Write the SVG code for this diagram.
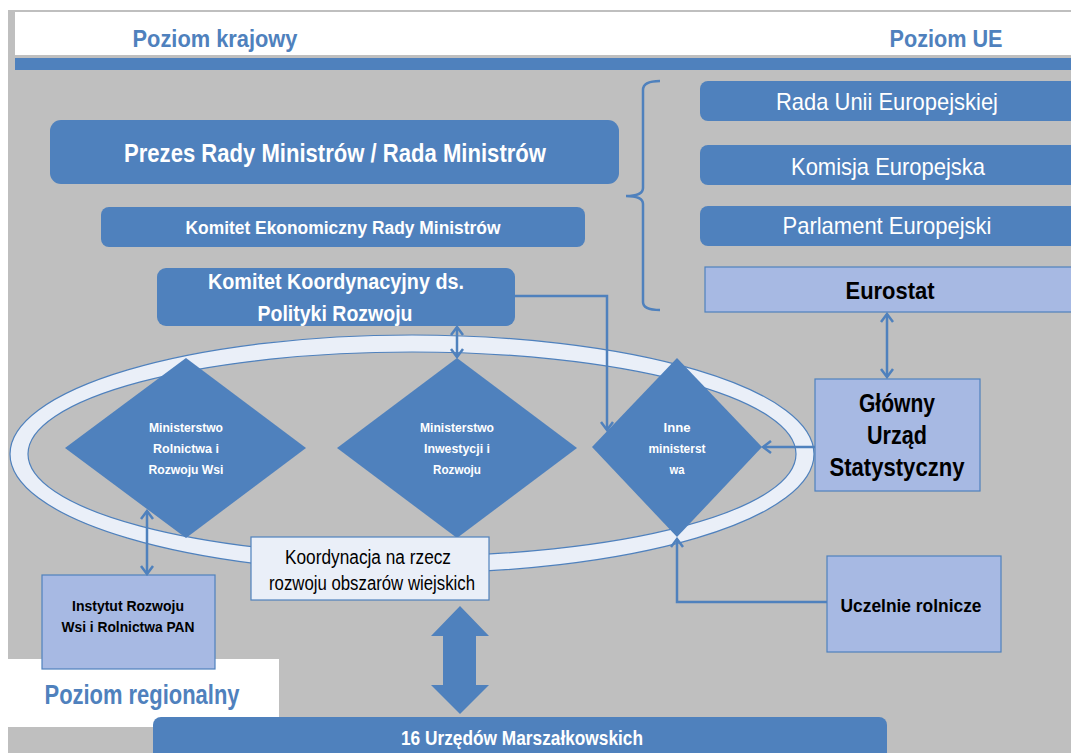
<svg xmlns="http://www.w3.org/2000/svg" width="1071" height="753" viewBox="0 0 1071 753">
  <style>
    .blue { fill: #4F81BD; }
    .light { fill: #A7B9E3; stroke: #4F81BD; stroke-width: 1.2; }
    .pale { fill: #EAEFF8; stroke: #4F81BD; stroke-width: 1.2; }
    text { font-family: "Liberation Sans Narrow", "Arial Narrow", "Liberation Sans", Arial, sans-serif; text-anchor: middle; }
    .wb { font-weight: bold; fill: #FFFFFF; }
    .wr { fill: #FFFFFF; }
    .kb { font-weight: bold; fill: #000000; }
    .kr { fill: #000000; }
    .head { font-weight: bold; fill: #4F81BD; }
    .line { fill: none; stroke: #4F81BD; stroke-width: 2.5; }
  </style>
  <defs>
    <marker id="open" markerUnits="userSpaceOnUse" viewBox="-12 -10 14 20" markerWidth="14" markerHeight="20" refX="0" refY="0" orient="auto-start-reverse">
      <path d="M-8,-6 L0,0 L-8,6" fill="none" stroke="#4F81BD" stroke-width="2.5" stroke-linejoin="miter"/>
    </marker>
  </defs>

  <!-- page and panels -->
  <rect x="0" y="0" width="1071" height="753" fill="#FFFFFF"/>
  <rect x="8" y="10" width="1063" height="743" fill="#BFBFBF"/>
  <rect x="15" y="12" width="1056" height="43" fill="#FFFFFF"/>
  <rect x="15" y="58" width="1056" height="12" class="blue"/>
  <rect x="0" y="659" width="279" height="68" fill="#FFFFFF"/>

  <!-- level headings -->
  <text class="head" x="215" y="47" font-size="24" textLength="165" lengthAdjust="spacingAndGlyphs">Poziom krajowy</text>
  <text class="head" x="946" y="47" font-size="24" textLength="113" lengthAdjust="spacingAndGlyphs">Poziom UE</text>
  <text class="head" x="142" y="704" font-size="27" textLength="195" lengthAdjust="spacingAndGlyphs">Poziom regionalny</text>

  <!-- coordination ring -->
  <g id="ring">
    <path fill-rule="evenodd" fill="#EAEFF8" stroke="#4F81BD" stroke-width="1.2"
      d="M10,454 A402,119 0 1,0 814,454 A402,119 0 1,0 10,454 Z M28,454 A384,102 0 1,0 796,454 A384,102 0 1,0 28,454 Z"/>
  </g>

  <!-- national level -->
  <g id="prezes">
    <rect x="50" y="120" width="569" height="64" rx="11" class="blue"/>
    <text class="wb" x="335" y="162" font-size="26" textLength="422" lengthAdjust="spacingAndGlyphs">Prezes Rady Ministrów / Rada Ministrów</text>
  </g>
  <g id="komitet-ekonomiczny">
    <rect x="101" y="207" width="484" height="40" rx="8" class="blue"/>
    <text class="wb" x="343" y="234" font-size="18" textLength="315" lengthAdjust="spacingAndGlyphs">Komitet Ekonomiczny Rady Ministrów</text>
  </g>
  <g id="komitet-koordynacyjny">
    <rect x="157" y="268" width="358" height="58" rx="9" class="blue"/>
    <text class="wb" x="336" y="289" font-size="22" textLength="256" lengthAdjust="spacingAndGlyphs">Komitet Koordynacyjny ds.</text>
    <text class="wb" x="335" y="321" font-size="22" textLength="155" lengthAdjust="spacingAndGlyphs">Polityki Rozwoju</text>
  </g>

  <!-- ministries -->
  <g id="min-rolnictwa">
    <polygon points="186,358 306,448 186,538 65,448" class="blue"/>
    <text class="wb" x="186" y="432" font-size="13" textLength="74" lengthAdjust="spacingAndGlyphs">Ministerstwo</text>
    <text class="wb" x="186" y="453" font-size="13" textLength="66" lengthAdjust="spacingAndGlyphs">Rolnictwa i</text>
    <text class="wb" x="186" y="474" font-size="13" textLength="75" lengthAdjust="spacingAndGlyphs">Rozwoju Wsi</text>
  </g>
  <g id="min-inwestycji">
    <polygon points="457,358 577,448 457,538 337,448" class="blue"/>
    <text class="wb" x="457" y="432" font-size="13" textLength="74" lengthAdjust="spacingAndGlyphs">Ministerstwo</text>
    <text class="wb" x="457" y="453" font-size="13" textLength="66" lengthAdjust="spacingAndGlyphs">Inwestycji i</text>
    <text class="wb" x="457" y="474" font-size="13" textLength="48" lengthAdjust="spacingAndGlyphs">Rozwoju</text>
  </g>
  <g id="inne-ministerstwa">
    <polygon points="677,358 762,447 677,537 592,447" class="blue"/>
    <text class="wb" x="677" y="432" font-size="13" textLength="27" lengthAdjust="spacingAndGlyphs">Inne</text>
    <text class="wb" x="677" y="453" font-size="13" textLength="57" lengthAdjust="spacingAndGlyphs">ministerst</text>
    <text class="wb" x="677" y="474" font-size="13" textLength="15" lengthAdjust="spacingAndGlyphs">wa</text>
  </g>

  <g id="koordynacja">
    <rect x="251" y="537" width="238" height="63" class="pale"/>
    <text class="kr" x="368" y="564" font-size="20" textLength="166" lengthAdjust="spacingAndGlyphs">Koordynacja na rzecz</text>
    <text class="kr" x="372" y="590" font-size="20" textLength="206" lengthAdjust="spacingAndGlyphs">rozwoju obszarów wiejskich</text>
  </g>

  <g id="instytut">
    <rect x="42" y="575" width="173" height="94" class="light"/>
    <text class="kb" x="128" y="611" font-size="15" textLength="112" lengthAdjust="spacingAndGlyphs">Instytut Rozwoju</text>
    <text class="kb" x="128" y="632" font-size="15" textLength="133" lengthAdjust="spacingAndGlyphs">Wsi i Rolnictwa PAN</text>
  </g>

  <g id="uczelnie">
    <rect x="827" y="556" width="174" height="96" class="light"/>
    <text class="kb" x="911" y="612" font-size="19" textLength="141" lengthAdjust="spacingAndGlyphs">Uczelnie rolnicze</text>
  </g>

  <g id="gus">
    <rect x="815" y="379" width="165" height="112" class="light"/>
    <text class="kb" x="897" y="412" font-size="26" textLength="76" lengthAdjust="spacingAndGlyphs">Główny</text>
    <text class="kb" x="897" y="444" font-size="26" textLength="60" lengthAdjust="spacingAndGlyphs">Urząd</text>
    <text class="kb" x="897" y="476" font-size="26" textLength="135" lengthAdjust="spacingAndGlyphs">Statystyczny</text>
  </g>

  <!-- EU level -->
  <g id="rada-ue">
    <rect x="700" y="81" width="390" height="40" rx="8" class="blue"/>
    <text class="wr" x="887" y="110" font-size="24" textLength="222" lengthAdjust="spacingAndGlyphs">Rada Unii Europejskiej</text>
  </g>
  <g id="komisja">
    <rect x="700" y="145" width="390" height="40" rx="8" class="blue"/>
    <text class="wr" x="888" y="175" font-size="24" textLength="194" lengthAdjust="spacingAndGlyphs">Komisja Europejska</text>
  </g>
  <g id="parlament">
    <rect x="700" y="206" width="390" height="40" rx="8" class="blue"/>
    <text class="wr" x="887" y="234" font-size="24" textLength="209" lengthAdjust="spacingAndGlyphs">Parlament Europejski</text>
  </g>
  <g id="eurostat">
    <rect x="705" y="267" width="390" height="45" class="light"/>
    <text class="kb" x="890" y="299" font-size="24" textLength="89" lengthAdjust="spacingAndGlyphs">Eurostat</text>
  </g>

  <!-- regional level -->
  <g id="urzedy-marszalkowskie">
    <rect x="153" y="717" width="734" height="60" rx="8" class="blue"/>
    <text class="wb" x="522" y="745" font-size="20" textLength="242" lengthAdjust="spacingAndGlyphs">16 Urzędów Marszałkowskich</text>
  </g>

  <!-- connectors -->
  <g id="connectors">
    <path class="line" d="M660,81 Q643,81 643,90 V188 Q643,196 626,196 Q643,196 643,204 V302 Q643,310 660,310"/>
    <path class="line" d="M515,296 H607 V430" marker-end="url(#open)"/>
    <path class="line" d="M457,327 V357" marker-start="url(#open)" marker-end="url(#open)"/>
    <path class="line" d="M147,511 V574" marker-start="url(#open)" marker-end="url(#open)"/>
    <path class="line" d="M887,314 V377" marker-start="url(#open)" marker-end="url(#open)"/>
    <path class="line" d="M815,447 H763" marker-end="url(#open)"/>
    <path class="line" d="M827,602 H677 V539" marker-end="url(#open)"/>
    <polygon class="blue" points="460,606 489,636 476,636 476,685 489,685 460,714 431,685 443,685 443,636 431,636"/>
  </g>
</svg>
